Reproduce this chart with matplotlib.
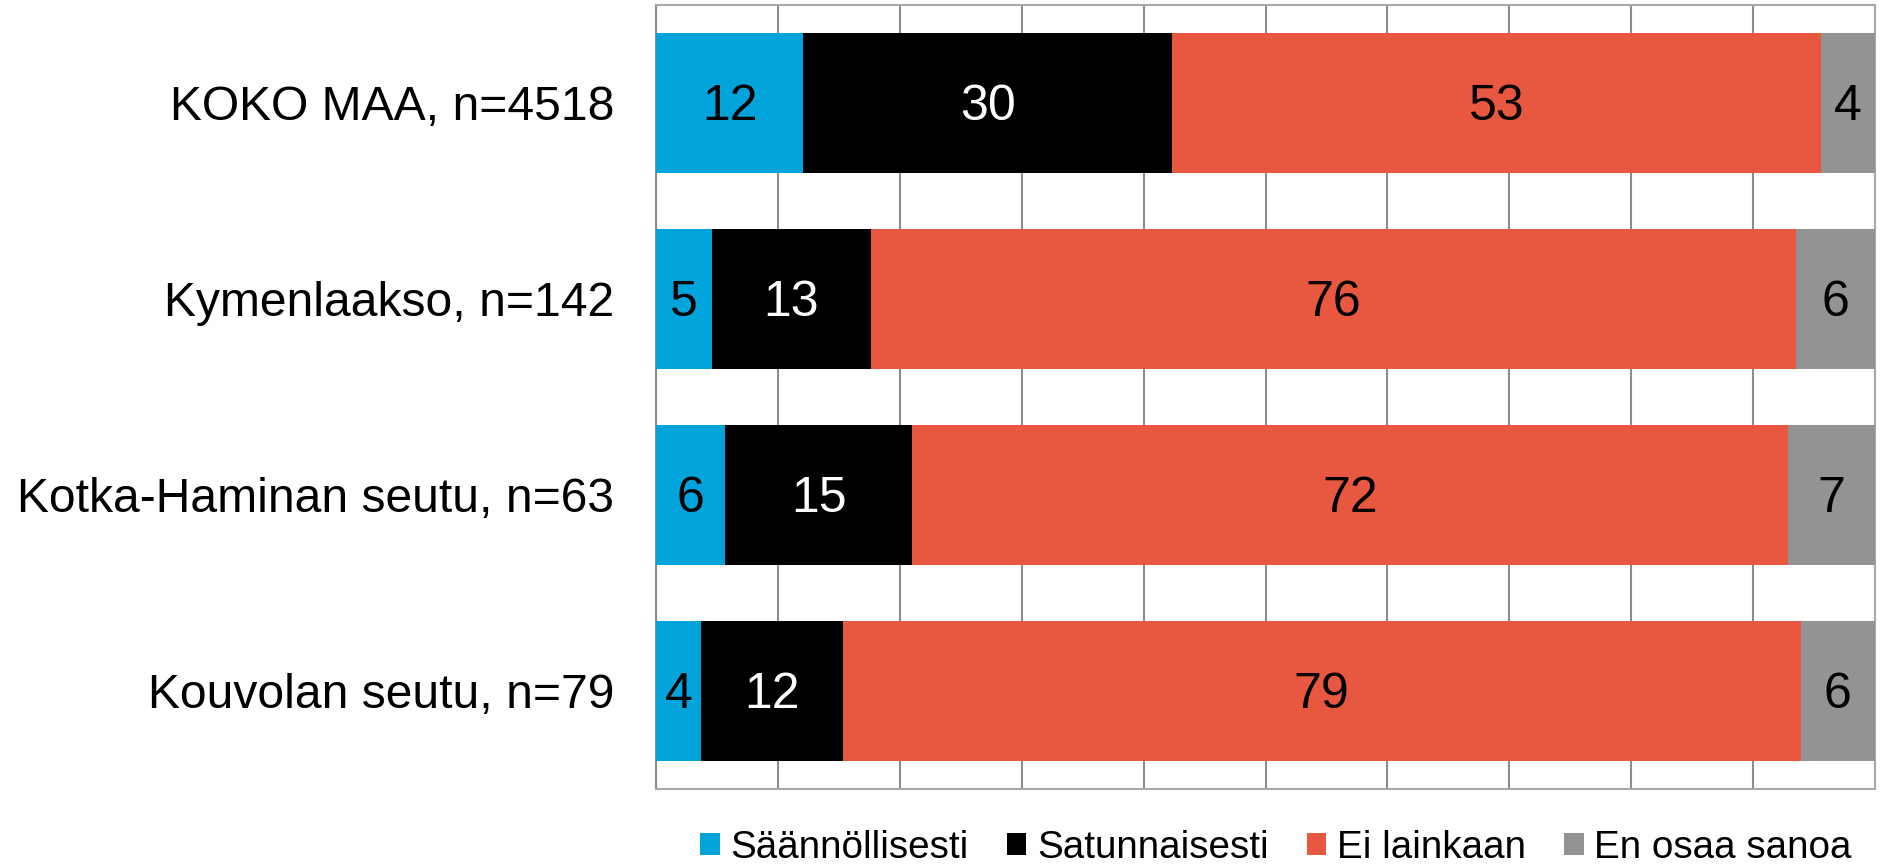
import numpy as np
import matplotlib
matplotlib.use("Agg")
import matplotlib.pyplot as plt

plt.rcParams['font.family'] = ['Liberation Sans', 'DejaVu Sans']

categories = ["KOKO MAA, n=4518", "Kymenlaakso, n=142",
              "Kotka-Haminan seutu, n=63", "Kouvolan seutu, n=79"]
series_names = ["Säännöllisesti", "Satunnaisesti", "Ei lainkaan", "En osaa sanoa"]
saannollisesti = [12.1, 4.6, 5.7, 3.7]
satunnaisesti = [30.2, 13.0, 15.3, 11.6]
ei_lainkaan = [53.3, 75.9, 71.9, 78.6]
en_osaa = [4.4, 6.5, 7.1, 6.1]

colors = ["#00a4db", "#000000", "#e8573f", "#939393"]
label_colors = ["black", "white", "black", "black"]

fig = plt.figure(figsize=(18.83, 8.65), dpi=100)
ax = fig.add_axes([656 / 1883, 1 - 789 / 865, (1875 - 656) / 1883, (789 - 5) / 865])

y = np.arange(len(categories))
left = np.zeros(len(categories))
for name, vals, col, tcol in zip(series_names,
                                 [saannollisesti, satunnaisesti, ei_lainkaan, en_osaa],
                                 colors, label_colors):
    vals = np.array(vals)
    bars = ax.barh(y, vals, left=left, height=0.713, color=col, label=name, zorder=3)
    for b, v in zip(bars, vals):
        ax.text(b.get_x() + b.get_width() / 2, b.get_y() + b.get_height() / 2 + 0.02,
                "%.0f" % v, ha='center', va='center', color=tcol, fontsize=36, zorder=4)
    left += vals

ax.set_xlim(0, 100)
ax.set_ylim(len(categories) - 0.5, -0.5)
ax.set_xticks(np.arange(0, 101, 10))
ax.set_xticklabels([])
ax.tick_params(axis='x', length=0)
ax.tick_params(axis='y', length=0, pad=30, labelsize=34.6)
ax.set_yticks(y)
ax.set_yticklabels(categories)
for t in ax.get_yticklabels():
    t.set_va('center_baseline')
ax.grid(axis='x', color='#8c8c8c', linewidth=1.5, zorder=0)
for s in ax.spines.values():
    s.set_color('#a8a8a8')
    s.set_linewidth(1.5)
ax.spines['left'].set_color('#8c8c8c')

fig.legend(loc='center', bbox_to_anchor=(1276 / 1883, 1 - 848 / 865), ncol=4,
           frameon=False, fontsize=27.8, handlelength=0.5, handleheight=0.5,
           handletextpad=0.27, columnspacing=1.0, borderpad=0)

fig.savefig("out.png", dpi=100)
